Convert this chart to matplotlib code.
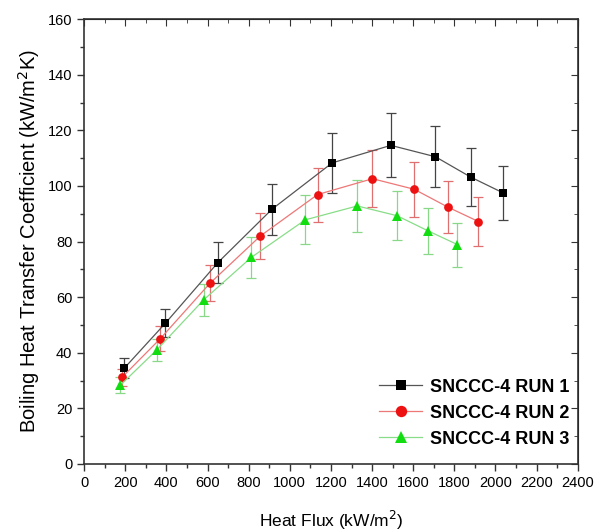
import matplotlib.pyplot as plt
from matplotlib.ticker import MultipleLocator

plt.rcParams['font.family'] = ['Liberation Sans', 'DejaVu Sans']

# run 1
x1 = [196, 395, 650, 913, 1206, 1491, 1708, 1879, 2037]
y1 = [34.5, 50.6, 72.4, 91.6, 108.3, 114.6, 110.5, 103.2, 97.5]
e1 = [3.5, 5.0, 7.3, 9.2, 10.8, 11.5, 11.0, 10.4, 9.8]
# run 2
x2 = [185, 371, 612, 857, 1135, 1402, 1605, 1768, 1917]
y2 = [31.2, 45.1, 65.0, 82.0, 96.9, 102.6, 98.8, 92.4, 87.2]
e2 = [3.1, 4.5, 6.5, 8.2, 9.7, 10.3, 9.9, 9.2, 8.7]
# run 3
x3 = [176, 353, 581, 813, 1075, 1328, 1521, 1673, 1815]
y3 = [28.3, 41.0, 59.0, 74.3, 87.8, 92.8, 89.3, 83.8, 78.9]
e3 = [2.8, 4.1, 5.9, 7.4, 8.8, 9.3, 8.9, 8.4, 7.9]

labels = ['SNCCC-4 RUN 1', 'SNCCC-4 RUN 2', 'SNCCC-4 RUN 3']

fig = plt.figure(figsize=(6.14, 5.32), dpi=100)
ax = fig.add_axes([0.137, 0.128, 0.804, 0.836])

series = [
    (x1, y1, e1, 's', '#000000', '#555555', '#444444', 5.2),
    (x2, y2, e2, 'o', '#ee1111', '#ee7777', '#e07070', 6.3),
    (x3, y3, e3, '^', '#11dd11', '#88dd88', '#88d888', 7),
]
for (x, y, e, m, c, lc, ec, ms), lab in zip(series, labels):
    ax.errorbar(x, y, yerr=e, fmt='none', ecolor=ec, elinewidth=0.9,
                capsize=3.5, capthick=0.9, zorder=2)
    ax.plot(x, y, '-', color=lc, lw=0.9, marker=m, markersize=ms,
            markerfacecolor=c, markeredgecolor=c, markeredgewidth=0,
            label=lab, zorder=3)

ax.set_xlim(0, 2400)
ax.set_ylim(0, 160)
ax.xaxis.set_major_locator(MultipleLocator(200))
ax.xaxis.set_minor_locator(MultipleLocator(100))
ax.yaxis.set_major_locator(MultipleLocator(20))
ax.yaxis.set_minor_locator(MultipleLocator(10))

ax.tick_params(which='both', direction='out', top=False, right=False,
               labelsize=10.5, color='#333333', width=1)
ax.tick_params(which='major', length=5)
ax.tick_params(which='minor', length=3)
# inward ticks on top and right
sec_x = ax.secondary_xaxis('top')
sec_x.xaxis.set_major_locator(MultipleLocator(200))
sec_x.xaxis.set_minor_locator(MultipleLocator(100))
sec_x.tick_params(which='both', direction='in', labeltop=False, color='#333333')
sec_x.tick_params(which='major', length=5)
sec_x.tick_params(which='minor', length=3)
sec_y = ax.secondary_yaxis('right')
sec_y.yaxis.set_major_locator(MultipleLocator(20))
sec_y.yaxis.set_minor_locator(MultipleLocator(10))
sec_y.tick_params(which='both', direction='in', labelright=False, color='#333333')
sec_y.tick_params(which='major', length=5)
sec_y.tick_params(which='minor', length=3)

for sp in ax.spines.values():
    sp.set_color('#333333')
    sp.set_linewidth(1.2)

ax.set_xlabel('Heat Flux (kW/m$^2$)', fontsize=12.5, labelpad=14)
ax.set_ylabel('Boiling Heat Transfer Coefficient (kW/m$^2$K)', fontsize=14.5, labelpad=4)

leg = ax.legend(loc='lower right', frameon=False,
                prop={'weight': 'bold', 'size': 13},
                handlelength=2.4, handletextpad=0.4, labelspacing=0.5,
                markerscale=1.3, bbox_to_anchor=(1.015, 0.0))

fig.savefig('out.png', dpi=100)
